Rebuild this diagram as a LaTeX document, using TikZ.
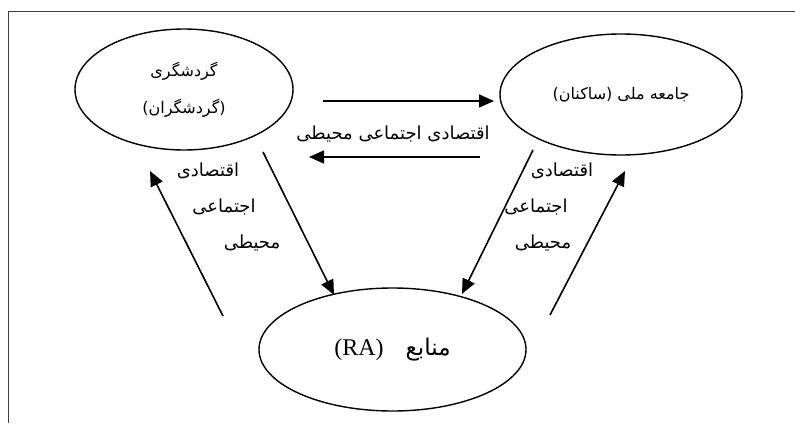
\documentclass[tikz,border=0pt]{standalone}
\usepackage{fontspec}
\setmainfont{Liberation Serif}
\newfontfamily\arabicfont[Script=Arabic]{DejaVu Sans}
\newfontfamily\latinsans{DejaVu Sans}
\TeXXeTstate=1
\usetikzlibrary{shapes.geometric,arrows.meta}
\newcommand{\lp}{{\latinsans(}}
\newcommand{\rp}{{\latinsans)}}
\begin{document}
\begin{tikzpicture}[x=1pt,y=-1pt,
  oval/.style={draw, ellipse, line width=1.4pt, inner sep=0pt, align=center},
  arr/.style={-{Triangle[length=15pt,width=13pt]}, line width=1.6pt},
  lbl/.style={font=\arabicfont\fontsize{18}{20}\selectfont, inner sep=0pt},
  frame/.style={draw=black!75, line width=1pt}]
\useasboundingbox (0,0) rectangle (795,423);
\draw[frame] (8,423) -- (8,11) -- (795,11);

\node[oval, minimum width=218pt, minimum height=121pt,
      font=\arabicfont\fontsize{16}{35}\selectfont] (tour) at (184,89.5)
  {\raisebox{2pt}{\beginR گردشگری\endR}\\\lp\beginR گردشگران\endR\rp};
\node[oval, minimum width=242pt, minimum height=121pt,
      font=\arabicfont\fontsize{16}{18}\selectfont] (soc) at (621,94.5)
  {\lp\beginR ساکنان\endR\rp\ \beginR جامعه ملی\endR};
\node[oval, minimum width=267pt, minimum height=123pt] (res) at (392.5,349.5)
  {\raisebox{5pt}{\fontsize{24}{26}\selectfont (RA)\hspace{22pt}{\arabicfont\fontsize{23}{26}\selectfont\beginR منابع\endR}}};

\node[lbl] (mid) at (393,134) {\beginR اقتصادی اجتماعی محیطی\endR};
\node[lbl] (l1) at (208,171) {\beginR اقتصادی\endR};
\node[lbl] (l2) at (224,207) {\beginR اجتماعی\endR};
\node[lbl] (l3) at (252,243) {\beginR محیطی\endR};
\node[lbl] (r1) at (562,171) {\beginR اقتصادی\endR};
\node[lbl] (r2) at (536,207) {\beginR اجتماعی\endR};
\node[lbl] (r3) at (543,243) {\beginR محیطی\endR};

\coordinate (ts) at (323,101);  \coordinate (te) at (494,101);
\coordinate (bs) at (480,157);  \coordinate (be) at (309,157);
\coordinate (lds) at (263,152); \coordinate (lde) at (334,295);
\coordinate (lus) at (223,316); \coordinate (lue) at (150,171);
\coordinate (rds) at (533,150); \coordinate (rde) at (462,294);
\coordinate (rus) at (550,315); \coordinate (rue) at (625,171);

\draw[arr] (ts) -- (te);
\draw[arr] (bs) -- (be);
\draw[arr] (lds) -- (lde);
\draw[arr] (lus) -- (lue);
\draw[arr] (rds) -- (rde);
\draw[arr] (rus) -- (rue);
\end{tikzpicture}
\end{document}
